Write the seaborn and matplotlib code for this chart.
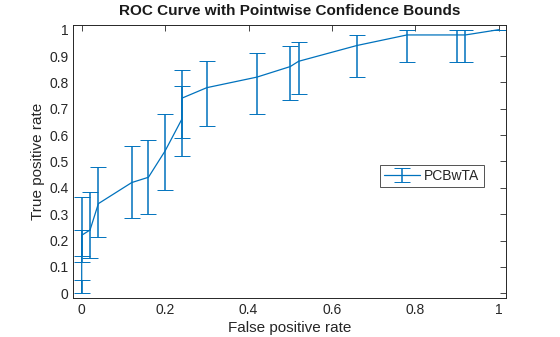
import matplotlib
matplotlib.use("Agg")
import matplotlib.pyplot as plt
import seaborn as sns
import numpy as np
import pandas as pd
from matplotlib.legend_handler import HandlerTuple

fpr = [0, 0, 0, 0.02, 0.04, 0.12, 0.16, 0.2, 0.24, 0.24, 0.3, 0.42, 0.5, 0.52, 0.66, 0.78, 0.9, 0.92, 1.0]
tpr = [0, 0.18, 0.22, 0.24, 0.34, 0.42, 0.44, 0.54, 0.66, 0.74, 0.78, 0.82, 0.86, 0.88, 0.94, 0.98, 0.98, 0.98, 1.0]
lower = [0, 0.118, 0.143, 0.134, 0.213, 0.285, 0.30, 0.391, 0.52, 0.589, 0.634, 0.68, 0.733, 0.757, 0.82, 0.877, 0.877, 0.877, 1.0]
upper = [0.049, 0.239, 0.365, 0.384, 0.48, 0.557, 0.581, 0.68, 0.785, 0.847, 0.88, 0.911, 0.938, 0.953, 0.98, 0.999, 0.999, 0.999, 1.0]
xticks = [0, 0.2, 0.4, 0.6, 0.8, 1]
xticklabels = ["0", "0.2", "0.4", "0.6", "0.8", "1"]
yticks = [0, 0.1, 0.2, 0.3, 0.4, 0.5, 0.6, 0.7, 0.8, 0.9, 1]
yticklabels = ["0", "0.1", "0.2", "0.3", "0.4", "0.5", "0.6", "0.7", "0.8", "0.9", "1"]

sns.set_style("white")
plt.rcParams["font.family"] = ["Liberation Sans", "DejaVu Sans"]

df = pd.DataFrame({"fpr": fpr, "tpr": tpr, "lo": lower, "hi": upper})
blue = "#0072BD"

fig = plt.figure(figsize=(5.6, 3.37), dpi=100)
ax = fig.add_axes([0.131, 0.115, 0.773, 0.811])

sns.lineplot(data=df, x="fpr", y="tpr", estimator=None, sort=False, color=blue,
             linewidth=0.9, ax=ax)
line = ax.lines[-1]
yerr = np.vstack([df["tpr"] - df["lo"], df["hi"] - df["tpr"]])
eb = ax.errorbar(df["fpr"], df["tpr"], yerr=yerr, fmt="none", ecolor=blue,
                 elinewidth=1.1, capsize=6, capthick=0.7)
for cap in eb[1]:
    cap.set_color("#3d8fd0")

ax.set_xlim(-0.02, 1.018)
ax.set_ylim(-0.019, 1.018)
ax.set_xticks(xticks)
ax.set_xticklabels(xticklabels)
ax.set_yticks(yticks)
ax.set_yticklabels(yticklabels)
ax.tick_params(direction="in", length=4, width=0.6, colors="#262626",
               labelsize=10, top=True, right=True, labelcolor="#262626")
for s in ax.spines.values():
    s.set_color("#262626")
    s.set_linewidth(0.7)

ax.set_title("ROC Curve with Pointwise Confidence Bounds", fontsize=11,
             fontweight="bold", color="#1a1a1a", pad=7)
ax.set_xlabel("False positive rate", fontsize=11, color="#262626", labelpad=3)
ax.set_ylabel("True positive rate", fontsize=11, color="#262626", labelpad=3)

leg = ax.legend([(line, eb)], ["PCBwTA"], handler_map={tuple: HandlerTuple(ndivide=1)},
                loc="center right", bbox_to_anchor=(0.948, 0.447), fontsize=10,
                frameon=True, fancybox=False, borderpad=0.3, handlelength=2.6,
                handletextpad=0.3, borderaxespad=0)
leg.get_frame().set_edgecolor("#262626")
leg.get_frame().set_linewidth(0.7)

fig.savefig("out.png", dpi=100)
